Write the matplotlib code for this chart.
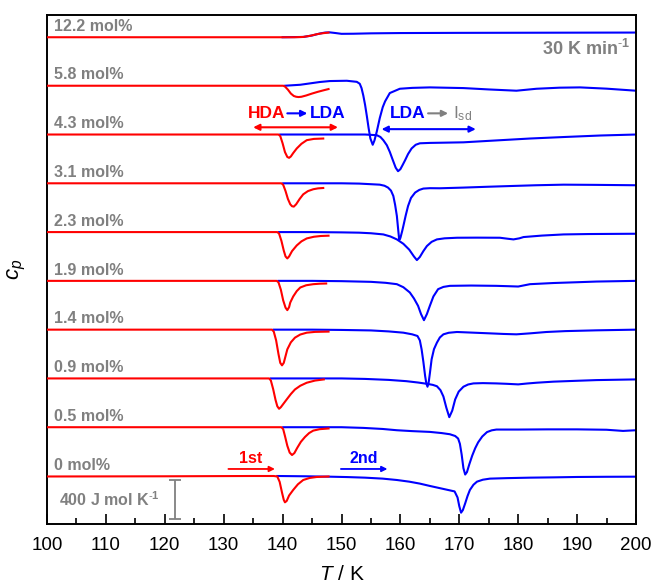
import matplotlib
matplotlib.use('Agg')
import matplotlib.pyplot as plt
from matplotlib.ticker import MultipleLocator

plt.rcParams['font.family'] = ['Liberation Sans', 'DejaVu Sans']
plt.rcParams['mathtext.fontset'] = 'custom'
plt.rcParams['mathtext.rm'] = 'Liberation Sans'
plt.rcParams['mathtext.it'] = 'Liberation Sans:italic'
plt.rcParams['mathtext.bf'] = 'Liberation Sans:bold'

# ---------------- data (cp in J mol^-1 K^-1 relative to each baseline) -------------
compositions = ["0 mol%", "0.5 mol%", "0.9 mol%", "1.4 mol%", "1.9 mol%",
                "2.3 mol%", "3.1 mol%", "4.3 mol%", "5.8 mol%", "12.2 mol%"]

# first heating (red)
red_T0 = [100, 120, 135, 138.5, 139.1, 139.5, 139.9, 140.2, 140.4, 140.7, 141.1, 141.8, 142.6, 143.5, 144.6, 145.8, 147.8]
red_y0 = [-5, -3, 0, 0, -5, -60, -170, -245, -270, -255, -200, -143, -85, -41, -20, -10, -5]
red_T1 = [100, 120, 138, 139.8, 140.1, 140.4, 140.8, 141.2, 141.6, 142.0, 142.5, 143.1, 143.8, 144.5, 145.2, 146.3, 147.8]
red_y1 = [0, 0, 0, 0, -20, -90, -190, -260, -285, -265, -210, -150, -100, -60, -35, -20, -13]
red_T2 = [100, 120, 136, 137.7, 138.0, 138.4, 138.8, 139.1, 139.4, 139.7, 140.2, 140.7, 141.4, 142.1, 143.0, 144.1, 145.5, 147.0]
red_y2 = [0, 0, 0, 0, -20, -110, -220, -285, -311, -295, -255, -215, -160, -113, -75, -44, -22, -10]
red_T3 = [100, 120, 136, 138.2, 138.5, 138.9, 139.3, 139.6, 139.9, 140.2, 140.8, 141.4, 142.1, 143.0, 144.1, 145.5, 147.8]
red_y3 = [0, 0, 0, 0, -20, -110, -250, -340, -366, -340, -202, -130, -82, -50, -31, -23, -20]
red_T4 = [100, 120, 137, 139.0, 139.3, 139.7, 140.1, 140.5, 140.8, 141.1, 141.3, 141.8, 142.4, 143.0, 144.0, 145.2, 146.3, 147.4]
red_y4 = [0, 0, 0, 0, -15, -90, -200, -275, -300, -270, -222, -160, -105, -68, -45, -34, -29, -27]
red_T5 = [100, 120, 137, 139.1, 139.4, 139.8, 140.2, 140.5, 140.8, 141.1, 141.6, 142.4, 143.2, 144.1, 145.3, 146.5, 147.8]
red_y5 = [0, 0, 0, 0, -15, -90, -190, -250, -270, -250, -195, -137, -95, -65, -48, -40, -37]
red_T6 = [100, 120, 138, 139.8, 140.1, 140.5, 140.9, 141.3, 141.6, 141.9, 142.3, 142.9, 143.5, 144.3, 145.2, 146.0, 146.9]
red_y6 = [0, 0, 0, 0, -15, -80, -160, -215, -235, -239, -215, -160, -113, -80, -61, -52, -48]
red_T7 = [100, 120, 138, 139.3, 139.6, 140.0, 140.4, 140.8, 141.1, 141.4, 141.8, 142.4, 143.2, 144.1, 145.3, 146.9]
red_y7 = [0, 0, 0, 0, -15, -90, -180, -230, -239, -225, -190, -143, -95, -58, -45, -41]
red_T8 = [100, 120, 138, 140.1, 140.4, 140.9, 141.4, 141.9, 142.3, 142.7, 143.2, 144.0, 145.0, 146.0, 147.0, 147.8]
red_y8 = [0, 0, 0, 0, -8, -40, -80, -105, -113, -116, -113, -100, -80, -62, -46, -34]
red_T9 = [100, 120, 135, 140, 142, 143.5, 144.7, 145.8, 146.8, 147.8]
red_y9 = [-3, -3, -3, -3, -3, 0, 12, 28, 38, 45]

# second heating (blue)
blue_T0 = [139.1, 144, 148, 151, 154, 157, 159.4, 161.5, 163.3, 165, 166.5, 168, 169.2, 169.7, 170.0, 170.3, 170.6, 171.0, 171.4, 171.8, 172.4, 173.0, 174.0, 175.2, 178, 182, 186, 190, 195, 200]
blue_y0 = [0, -3, -7, -11, -17, -27, -41, -58, -78, -102, -122, -142, -158, -220, -310, -376, -350, -280, -205, -143, -90, -58, -38, -27, -22, -17, -14, -10, -8, -7]
blue_T1 = [140.1, 145, 150, 153.7, 157, 159.4, 162, 165, 167, 168.4, 169.3, 169.8, 170.1, 170.4, 170.7, 171.0, 171.3, 171.7, 172.2, 172.7, 173.2, 173.9, 174.7, 175.5, 176.3, 180, 185, 190, 195, 197.8, 200]
blue_y1 = [0, 0, 0, -7, -18, -31, -40, -48, -60, -72, -90, -116, -170, -280, -420, -485, -460, -380, -290, -215, -155, -95, -50, -32, -24, -24, -22, -22, -26, -38, -31]
blue_T2 = [138.0, 145, 150, 154, 158, 161, 163, 164.5, 165.5, 166.2, 166.8, 167.3, 167.8, 168.3, 168.8, 169.3, 169.9, 170.7, 171.5, 172.4, 174, 176.3, 178, 180, 181.5, 183.1, 186, 190, 193.3, 200]
blue_y2 = [0, 0, 0, -5, -15, -28, -42, -55, -66, -80, -120, -185, -300, -397, -330, -215, -135, -85, -62, -51, -48, -51, -55, -61, -52, -44, -33, -24, -17, -10]
blue_T3 = [138.5, 145, 150, 155, 158, 160.5, 162, 162.9, 163.3, 163.6, 163.9, 164.2, 164.4, 164.6, 164.8, 165.0, 165.3, 165.7, 166.2, 166.7, 167.3, 168.2, 169.6, 172, 175.2, 177.5, 179.7, 182, 184.8, 188, 193.3, 200]
blue_y3 = [0, 0, -3, -8, -18, -31, -48, -65, -110, -202, -330, -476, -550, -585, -540, -450, -304, -200, -133, -80, -48, -32, -24, -30, -38, -44, -48, -38, -24, -15, -7, 0]
blue_T4 = [139.3, 145, 150, 155, 157.5, 159.4, 160.5, 161.6, 162.3, 163.0, 163.5, 164.0, 164.5, 165.0, 165.6, 166.4, 167.3, 168.4, 172, 176.3, 178.5, 180, 182, 186, 190, 193.3, 200]
blue_y4 = [0, 0, -3, -10, -20, -34, -65, -119, -180, -256, -340, -403, -340, -256, -160, -85, -62, -51, -48, -51, -55, -58, -34, -22, -14, -7, 0]
blue_T5 = [139.4, 145, 150, 153, 155, 157.1, 158.3, 159.4, 160.5, 161.5, 162.3, 162.8, 163.3, 163.9, 164.5, 165.3, 166.2, 167.5, 169.6, 173, 176.9, 178.2, 179.2, 180.2, 180.9, 184, 187.7, 192, 200]
blue_y5 = [0, 0, -3, -6, -12, -24, -45, -75, -120, -180, -250, -287, -255, -195, -143, -100, -75, -64, -58, -57, -58, -68, -75, -64, -51, -36, -24, -20, -17]
blue_T6 = [140.1, 145, 150, 153, 156.5, 157.3, 157.9, 158.4, 158.8, 159.1, 159.4, 159.6, 159.8, 160.0, 160.3, 160.5, 160.9, 161.3, 161.8, 162.5, 163.2, 163.9, 165, 166.7, 170.7, 175, 179.2, 183, 187.7, 193, 200]
blue_y6 = [0, 0, 0, -3, -14, -25, -44, -75, -130, -220, -335, -460, -581, -560, -490, -438, -330, -233, -150, -95, -68, -54, -50, -51, -44, -35, -27, -20, -14, -16, -20]
blue_T7 = [139.6, 145, 150, 154, 156, 156.6, 157.1, 157.7, 158.2, 158.7, 159.2, 159.6, 160.0, 160.4, 160.8, 161.3, 161.9, 162.6, 163.3, 165, 167, 170.7, 175, 182, 188, 194, 200]
blue_y7 = [0, 0, 0, 0, -7, -25, -58, -110, -178, -260, -340, -376, -355, -310, -263, -200, -143, -105, -90, -86, -84, -80, -65, -41, -25, -10, 0]
blue_T8 = [140.4, 143, 146.3, 148, 150.9, 152.6, 153.1, 153.4, 153.7, 154.0, 154.3, 154.6, 154.9, 155.3, 155.6, 156.0, 156.5, 157.0, 157.4, 158.2, 159.9, 162, 165, 170.7, 175, 179.7, 183.1, 187, 190.5, 195, 200]
blue_y8 = [0, 10, 38, 48, 51, 40, 20, -24, -100, -195, -310, -433, -540, -605, -560, -467, -331, -220, -160, -75, -31, -22, -17, -24, -38, -51, -31, -20, -17, -30, -51]
blue_T9 = [140, 143.5, 145, 146.3, 147.2, 148, 149, 150, 152, 155, 160, 170, 180, 190, 200]
blue_y9 = [-3, 0, 15, 35, 45, 47, 40, 32, 33, 37, 40, 42, 43, 44, 45]

red_T = [red_T0, red_T1, red_T2, red_T3, red_T4, red_T5, red_T6, red_T7, red_T8, red_T9]
red_y = [red_y0, red_y1, red_y2, red_y3, red_y4, red_y5, red_y6, red_y7, red_y8, red_y9]
blue_T = [blue_T0, blue_T1, blue_T2, blue_T3, blue_T4, blue_T5, blue_T6, blue_T7, blue_T8, blue_T9]
blue_y = [blue_y0, blue_y1, blue_y2, blue_y3, blue_y4, blue_y5, blue_y6, blue_y7, blue_y8, blue_y9]

xticks = [100, 110, 120, 130, 140, 150, 160, 170, 180, 190, 200]
scale_bar = 400  # J mol^-1 K^-1
spacing = 500

# ---------------- figure ---------------------------------------------------------
RED = '#ff0000'
BLUE = '#0000ff'
GRAY = '#808080'

fig = plt.figure(figsize=(6.54, 5.86), dpi=100)
ax = fig.add_axes([47/654, 1-524/586, (636-47)/654, (524-15)/586])

for i in range(len(compositions)):
    off = i * spacing
    ax.plot(blue_T[i], [v + off for v in blue_y[i]], color=BLUE, lw=1.5,
            solid_joinstyle='round', zorder=2)
    ax.plot(red_T[i], [v + off for v in red_y[i]], color=RED, lw=1.5,
            solid_joinstyle='round', zorder=3)
    ax.text(101.2, off + 65, compositions[i], color=GRAY, fontsize=11.5,
            fontweight='bold', ha='left', va='baseline')

ax.set_xlim(100, 200)
ax.set_ylim(-492, 4725)
ax.set_xticks(xticks)
ax.xaxis.set_minor_locator(MultipleLocator(5))
ax.tick_params(axis='x', which='major', direction='in', length=7, width=1.2,
               labelsize=13.5, pad=9, top=False)
ax.tick_params(axis='x', which='minor', direction='in', length=4, width=1.2, top=False)
ax.tick_params(axis='y', left=False, right=False, labelleft=False)
for s in ax.spines.values():
    s.set_linewidth(1.4)

ax.set_xlabel(r'$T$ / K', fontsize=15)
ax.xaxis.set_label_coords(0.5, -0.08)
ax.set_ylabel(r'$c_p$', fontsize=16)
ax.yaxis.set_label_coords(-0.033, 0.5)

# heating-rate note
ax.text(199, 4310, r'30 K min$^{\mathbf{\text{-}1}}$', color=GRAY, fontsize=13,
        fontweight='bold', ha='right', va='baseline')

# HDA -> LDA
ax.text(140.4, 3666, 'HDA', color=RED, fontsize=12.5, fontweight='bold', ha='right', va='baseline')
ax.text(144.7, 3666, 'LDA', color=BLUE, fontsize=12.5, fontweight='bold', ha='left', va='baseline')
ax.annotate('', xy=(144.2, 3717), xytext=(140.8, 3717),
            arrowprops=dict(arrowstyle='-|>', color=BLUE, lw=1.5, mutation_scale=9,
                            shrinkA=0, shrinkB=0))
ax.annotate('', xy=(149.4, 3574), xytext=(135.0, 3574),
            arrowprops=dict(arrowstyle='<|-|>', color=RED, lw=1.5, mutation_scale=9,
                            shrinkA=0, shrinkB=0))

# LDA -> Isd
ax.text(158.2, 3666, 'LDA', color=BLUE, fontsize=12.5, fontweight='bold', ha='left', va='baseline')
ax.annotate('', xy=(168.1, 3717), xytext=(164.7, 3717),
            arrowprops=dict(arrowstyle='-|>', color=GRAY, lw=1.5, mutation_scale=9,
                            shrinkA=0, shrinkB=0))
ax.text(169.0, 3666, r'I$_{\mathrm{sd}}$', color=GRAY, fontsize=12.5, ha='left', va='baseline')
ax.annotate('', xy=(172.8, 3555), xytext=(156.8, 3555),
            arrowprops=dict(arrowstyle='<|-|>', color=BLUE, lw=1.5, mutation_scale=9,
                            shrinkA=0, shrinkB=0))

# 1st / 2nd
ax.text(134.6, 130, '1st', color=RED, fontsize=11.5, fontweight='bold', ha='center', va='baseline')
ax.annotate('', xy=(138.7, 72), xytext=(130.8, 72),
            arrowprops=dict(arrowstyle='-|>', color=RED, lw=1.3, mutation_scale=8,
                            shrinkA=0, shrinkB=0))
ax.text(153.7, 130, '2nd', color=BLUE, fontsize=11.5, fontweight='bold', ha='center', va='baseline')
ax.annotate('', xy=(157.8, 72), xytext=(149.9, 72),
            arrowprops=dict(arrowstyle='-|>', color=BLUE, lw=1.3, mutation_scale=8,
                            shrinkA=0, shrinkB=0))

# scale bar
ax.errorbar([121.7], [-40 - scale_bar / 2], yerr=[scale_bar / 2], color=GRAY,
            capsize=4, elinewidth=1.3, capthick=1.3, fmt='none')
ax.text(102.0, -307, r'400 J mol K$^{\mathbf{\text{-}1}}$', color=GRAY, fontsize=11.5,
        fontweight='bold', ha='left', va='baseline')

fig.savefig('out.png', dpi=100)
